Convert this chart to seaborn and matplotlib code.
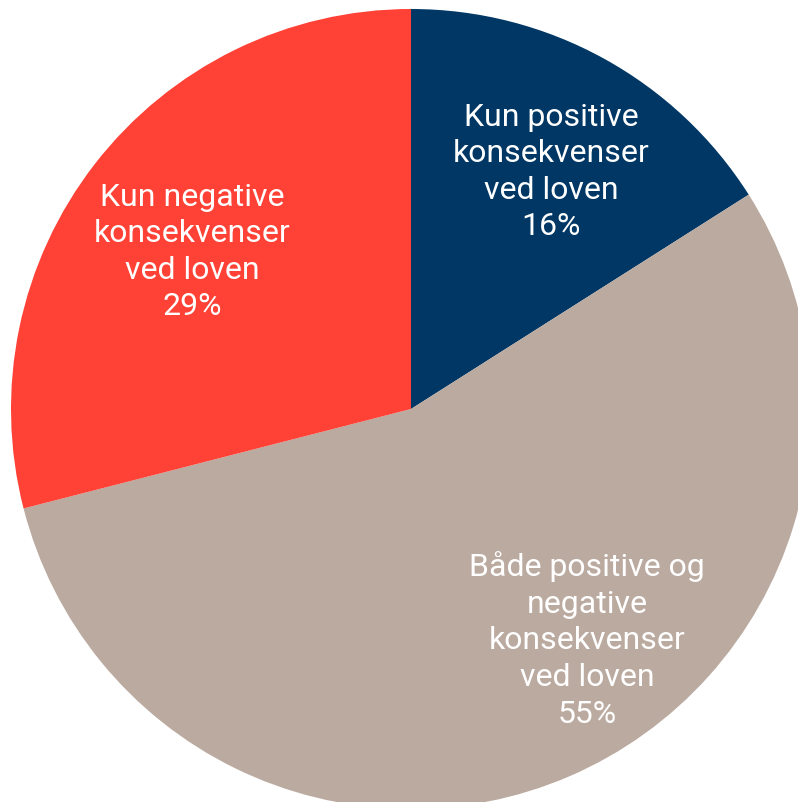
import matplotlib
matplotlib.use("Agg")
import matplotlib.pyplot as plt
import seaborn as sns

categories = ["Kun positive\nkonsekvenser\nved loven",
              "Både positive og\nnegative\nkonsekvenser\nved loven",
              "Kun negative\nkonsekvenser\nved loven"]
values = [16, 55, 29]
colors = ["#003764", "#bbaaa0", "#ff4136"]
label_pos = [(0.35, 0.595), (0.44, -0.575), (-0.5475, 0.395)]

sns.set_theme(style="white")
plt.rcParams['font.family'] = ['Roboto', 'DejaVu Sans']

fig = plt.figure(figsize=(7.98, 8.03), dpi=100)
ax = fig.add_axes([0, 0, 1, 1])
wedges, _ = ax.pie(values, colors=colors, startangle=90, counterclock=False,
                   radius=1.0, wedgeprops=dict(linewidth=0))
for cat, v, (x, y) in zip(categories, values, label_pos):
    ax.text(x, y, f"{cat}\n{v}%", ha="center", va="center", color="white",
            fontsize=23, linespacing=1.33)
ax.set_xlim(-1.0275, 0.9675)
ax.set_ylim(-0.9825, 1.025)
ax.set_aspect("equal")
ax.axis("off")
fig.savefig("out.png", dpi=100)
